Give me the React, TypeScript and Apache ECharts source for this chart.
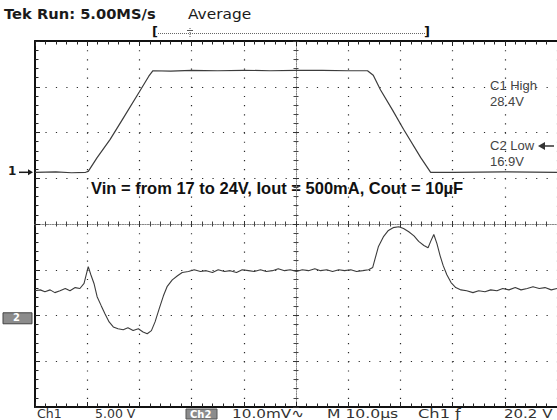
import React, { useEffect, useRef } from "react";
import * as echarts from "echarts";

// Time base: 10 µs / div, trigger at screen centre
const X_MIN = -50;
const X_MAX = 50;
const X_STEP = 10;
// Vertical graticule in divisions
const DIV_MIN = -4;
const DIV_MAX = 4;

// Channel 1: 5.00 V/div, marker "1→" at 17 V
const CH1_VOLTS_PER_DIV = 5;
const CH1_MARKER_V = 17;
const CH1_MARKER_DIV = 1.13;
// Channel 2: 10.0 mV/div (AC), marker box
const CH2_MV_PER_DIV = 10;
const CH2_MARKER_DIV = -2.05;

// [time µs, volts]
const ch1Samples: [number, number][] = [
  [-50, 17.0], [-46, 17.05], [-43, 16.95], [-40.3, 17.0], [-39.8, 17.1],
  [-38.1, 18.6], [-35.6, 20.6], [-33, 23.0], [-30, 25.8], [-28.2, 27.5],
  [-27.4, 28.1], [-24, 28.05], [-20, 28.15], [-15, 28.1], [-10, 28.15],
  [-5, 28.1], [0, 28.15], [5, 28.15], [10, 28.1], [13.7, 28.1],
  [14.8, 27.6], [16.2, 26.0], [18.5, 23.8], [20.6, 21.7], [23.9, 18.6],
  [25.8, 17.0], [30, 17.0], [40, 17.05], [50, 17.0],
];

// [time µs, millivolts]
const ch2Samples: [number, number][] = [
  [-50.0, 5.9], [-49.0, 6.1], [-48.1, 5.7], [-47.1, 6.1], [-46.2, 5.5],
  [-45.2, 5.9], [-44.2, 6.4], [-43.3, 5.9], [-42.3, 6.6], [-41.4, 6.4],
  [-40.6, 7.5], [-39.8, 11.2], [-39.3, 9.4], [-38.7, 7.5], [-38.1, 4.6],
  [-37.3, 2.6], [-36.6, 0.9], [-35.8, -0.9], [-35.0, -2.0], [-34.1, -2.4],
  [-33.1, -2.6], [-32.2, -2.2], [-31.2, -2.8], [-30.2, -2.4], [-29.3, -3.1],
  [-28.5, -3.5], [-27.7, -2.8], [-27.0, -0.9], [-26.2, 2.0], [-25.4, 4.8],
  [-24.7, 6.8], [-23.7, 8.3], [-22.7, 9.2], [-21.8, 9.9], [-20.6, 10.1],
  [-19.5, 10.5], [-18.3, 10.1], [-17.2, 10.3], [-16.0, 9.9], [-14.9, 10.5],
  [-13.7, 10.1], [-12.6, 10.3], [-11.4, 9.9], [-10.3, 10.5], [-9.1, 10.3],
  [-8.0, 10.1], [-6.8, 10.5], [-5.7, 10.1], [-4.5, 10.3], [-3.4, 10.7],
  [-2.2, 10.3], [-1.1, 10.5], [0.1, 10.1], [1.2, 10.5], [2.4, 10.3],
  [3.6, 10.7], [4.7, 10.3], [5.9, 10.5], [7.0, 10.1], [8.2, 10.5],
  [9.3, 10.3], [10.5, 10.5], [11.6, 10.1], [12.8, 10.3], [13.9, 10.5],
  [14.7, 11.0], [15.1, 12.7], [15.8, 15.6], [16.8, 17.8], [17.7, 19.1],
  [18.6, 19.7], [19.7, 19.9], [20.6, 19.5], [21.6, 18.8], [22.6, 17.9],
  [23.5, 16.7], [24.5, 15.8], [25.3, 15.3], [25.8, 16.7], [26.4, 18.2],
  [27.0, 16.2], [27.6, 13.6], [28.2, 11.4], [28.9, 9.4], [29.7, 7.7],
  [30.6, 6.6], [31.6, 6.1], [32.7, 5.9], [33.9, 5.5], [35.0, 5.9],
  [36.2, 5.7], [37.3, 6.1], [38.5, 5.9], [39.6, 6.4], [40.8, 6.1],
  [42.0, 6.6], [43.1, 6.1], [44.3, 6.4], [45.4, 6.8], [46.6, 6.4],
  [47.7, 6.6], [48.9, 6.1], [50.0, 6.4],
];

const headerText = "Tek Run: 5.00MS/s";
const acqText = "Average";
const noteText = "Vin = from 17 to 24V, Iout = 500mA, Cout = 10\u00b5F";
const cursorLabels = ["C1 High", "28.4V", "C2 Low", "16.9V"];
// [text, left x, horizontal stretch]
const statusTexts: [string, number, number][] = [
  ["Ch1", 37, 1.0], ["5.00 V", 95, 1.0], ["10.0mV\u223f", 232, 1.22], ["M 10.0\u00b5s", 327, 1.25],
  ["Ch1 \u0192", 418, 1.3], ["20.2 V", 504, 1.2],
];

const G = { left: 35, top: 41, width: 522, height: 366 };
const divH = G.height / (DIV_MAX - DIV_MIN);
const yOfDiv = (d: number) => G.top + (DIV_MAX - d) * divH;

const mainAxisCommon = (pos: string) => ({
  type: "value",
  min: X_MIN,
  max: X_MAX,
  interval: X_STEP,
  position: pos,
  axisLabel: { show: false },
});

export default function App() {
  const ref = useRef<HTMLDivElement>(null);
  useEffect(() => {
    if (!ref.current) return;
    const chart = echarts.init(ref.current, null, { renderer: "svg" });
    const ch1Data = ch1Samples.map(([t, v]) => [t, CH1_MARKER_DIV + (v - CH1_MARKER_V) / CH1_VOLTS_PER_DIV]);
    const ch2Data = ch2Samples.map(([t, mv]) => [t, CH2_MARKER_DIV + mv / CH2_MV_PER_DIV]);
    const dotColor = "#2a2a2a";
    const tickColor = "#222";
    const borderLine = { show: true, onZero: false, lineStyle: { color: "#111", width: 2 } };
    const crossLine = { show: true, onZero: true, lineStyle: { color: "#888", width: 1, type: [1, 1.5] } };
    const font = "'Liberation Sans', Arial, sans-serif";
    const tekFont = "'DejaVu Sans', sans-serif";
    const ch1Y = yOfDiv(CH1_MARKER_DIV);
    const ch2Y = yOfDiv(CH2_MARKER_DIV);
    const borderTick = { show: true, inside: true, length: 5, lineStyle: { color: tickColor, width: 1 } };
    const borderMinor = { show: true, splitNumber: 5, length: 3.5, lineStyle: { color: tickColor, width: 1 } };
    const crossTick = { show: true, inside: true, length: 3, lineStyle: { color: "#333", width: 1 } };
    const crossMinor = { show: true, splitNumber: 5, length: 2.5, lineStyle: { color: "#444", width: 1 } };
    chart.setOption({
      animation: false,
      backgroundColor: "#ffffff",
      grid: { ...G, containLabel: false },
      xAxis: [
        {
          ...mainAxisCommon("bottom"),
          axisLine: borderLine,
          axisTick: borderTick,
          minorTick: borderMinor,
          splitLine: { show: true, lineStyle: { color: dotColor, width: 1.2, type: [1.2, divH / 5 - 1.2] } },
        },
        {
          ...mainAxisCommon("top"),
          axisLine: borderLine,
          axisTick: borderTick,
          minorTick: borderMinor,
          splitLine: { show: false },
        },
        {
          ...mainAxisCommon("bottom"),
          axisLine: crossLine,
          axisTick: crossTick,
          minorTick: crossMinor,
          splitLine: { show: false },
        },
        {
          ...mainAxisCommon("top"),
          axisLine: crossLine,
          axisTick: crossTick,
          minorTick: crossMinor,
          splitLine: { show: false },
        },
      ],
      yAxis: [
        {
          type: "value", min: DIV_MIN, max: DIV_MAX, interval: 1, position: "left",
          axisLabel: { show: false },
          axisLine: borderLine,
          axisTick: borderTick,
          minorTick: borderMinor,
          splitLine: { show: true, lineStyle: { color: dotColor, width: 1.2, type: [1.2, G.width / 50 - 1.2] } },
        },
        {
          type: "value", min: DIV_MIN, max: DIV_MAX, interval: 1, position: "left",
          axisLabel: { show: false },
          axisLine: crossLine,
          axisTick: crossTick,
          minorTick: crossMinor,
          splitLine: { show: false },
        },
        {
          type: "value", min: DIV_MIN, max: DIV_MAX, interval: 1, position: "right",
          axisLabel: { show: false },
          axisLine: crossLine,
          axisTick: crossTick,
          minorTick: crossMinor,
          splitLine: { show: false },
        },
      ],
      series: [
        {
          name: "Ch1", type: "line", data: ch1Data, showSymbol: false, z: 5,
          lineStyle: { color: "#3c3c3c", width: 1.2 },
        },
        {
          name: "Ch2", type: "line", data: ch2Data, showSymbol: false, z: 5,
          lineStyle: { color: "#3c3c3c", width: 1.1 },
        },
      ],
      graphic: [
        { type: "text", x: 4, y: 7, scaleX: 1.05, style: { text: headerText, font: `bold 14px ${tekFont}`, fill: "#1a1a1a" } },
        { type: "text", x: 188, y: 7, scaleX: 1.1, style: { text: acqText, font: `14px ${tekFont}`, fill: "#1a1a1a" } },
        { type: "text", left: 152, top: 25, style: { text: "[", font: `bold 13px ${tekFont}`, fill: "#111" } },
        { type: "text", left: 424, top: 25, style: { text: "]", font: `bold 13px ${tekFont}`, fill: "#111" } },
        { type: "line", shape: { x1: 158, y1: 33.5, x2: 425, y2: 33.5 }, style: { stroke: "#666", lineWidth: 1, lineDash: [1, 1] } },
        { type: "line", shape: { x1: 190, y1: 28, x2: 190, y2: 38 }, style: { stroke: "#555", lineWidth: 1, lineDash: [1, 1] } },
        { type: "line", shape: { x1: 187, y1: 30.5, x2: 193, y2: 30.5 }, style: { stroke: "#555", lineWidth: 1 } },
        // channel 1 marker
        { type: "text", left: 8, top: ch1Y - 7, style: { text: "1", font: `bold 12px ${tekFont}`, fill: "#1a1a1a" } },
        { type: "line", shape: { x1: 19, y1: ch1Y, x2: 29, y2: ch1Y }, style: { stroke: "#1a1a1a", lineWidth: 1.5 } },
        { type: "polygon", shape: { points: [[28, ch1Y - 3], [33, ch1Y], [28, ch1Y + 3]] }, style: { fill: "#1a1a1a" } },
        // channel 2 marker box
        { type: "rect", shape: { x: 3, y: ch2Y - 5, width: 29, height: 11 }, style: { fill: "#8c8c8c", stroke: "#444", lineWidth: 1 } },
        { type: "text", left: 13, top: ch2Y - 5, style: { text: "2", font: `bold 10px ${tekFont}`, fill: "#fff" } },
        // annotation
        { type: "text", left: 91, top: 179, style: { text: noteText, font: `bold 16.5px ${font}`, fill: "#111" } },
        // cursor readouts
        { type: "text", left: 490, top: 79, style: { text: cursorLabels[0], font: `13px ${font}`, fill: "#444" } },
        { type: "text", left: 490, top: 95, style: { text: cursorLabels[1], font: `13px ${font}`, fill: "#444" } },
        { type: "text", left: 490, top: 139, style: { text: cursorLabels[2], font: `13px ${font}`, fill: "#444" } },
        { type: "text", left: 490, top: 155, style: { text: cursorLabels[3], font: `13px ${font}`, fill: "#444" } },
        { type: "line", shape: { x1: 543, y1: 146, x2: 554, y2: 146 }, style: { stroke: "#333", lineWidth: 1.5 } },
        { type: "polygon", shape: { points: [[538, 146], [545, 142], [545, 150]] }, style: { fill: "#333" } },
        // status bar
        { type: "rect", shape: { x: 186, y: 409, width: 31, height: 10 }, style: { fill: "#8c8c8c", stroke: "#555", lineWidth: 1 } },
        { type: "text", x: 190, y: 409, style: { text: "Ch2", font: `bold 10px ${tekFont}`, fill: "#fff", lineHeight: 10 } },
        ...statusTexts.map(([t, x, sx]) => ({
          type: "text", x, y: 408, scaleX: sx,
          style: { text: t, font: `12.5px ${tekFont}`, fill: "#333", lineHeight: 11 },
        })),
      ],
    });
    return () => chart.dispose();
  }, []);
  return <div ref={ref} style={{ width: 557, height: 420, position: "absolute", left: 0, top: 0 }} />;
}
